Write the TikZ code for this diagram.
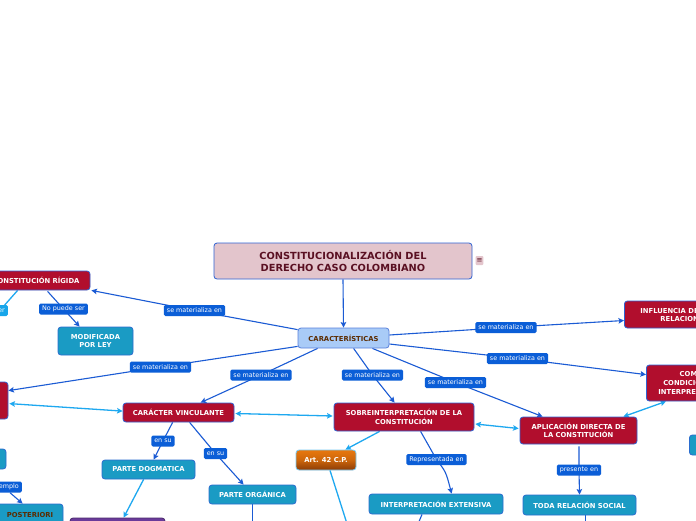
\documentclass[tikz,border=0pt]{standalone}
\usepackage{fontspec}
\setmainfont{DejaVu Sans}
\usetikzlibrary{arrows.meta,calc,backgrounds}
\definecolor{redn}{HTML}{B10E2D}
\definecolor{tealn}{HTML}{1A9BC4}
\definecolor{bordb}{HTML}{2F62D2}
\definecolor{lblb}{HTML}{0B5ED7}
\definecolor{lblc}{HTML}{17A6EA}
\definecolor{lined}{HTML}{1B5BD4}
\definecolor{linel}{HTML}{1EA8F0}
\definecolor{titlef}{HTML}{E3C5CC}
\definecolor{titlet}{HTML}{5A1022}
\definecolor{carf}{HTML}{A9CBF7}
\definecolor{brownt}{HTML}{5B2B00}
\definecolor{purpn}{HTML}{6A3A9A}
\definecolor{artt}{HTML}{E8780E}
\definecolor{artb}{HTML}{8C3C06}
\newcommand{\mynodefont}{\bfseries\fontsize{6.8}{8.6}\selectfont}
\newcommand{\mylblfont}{\fontsize{6.4}{7.4}\selectfont}
\begin{document}
\begin{tikzpicture}[x=1pt,y=-1pt,
  boxbase/.style={rounded corners=3pt, draw=bordb, line width=0.8pt, align=center, font=\mynodefont, inner sep=2pt},
  redbox/.style={boxbase, fill=redn, text=white},
  tealbox/.style={boxbase, fill=tealn, text=white, draw=bordb!80!tealn},
  purpbox/.style={boxbase, fill=purpn, draw=purpn!70!black},
  titlebox/.style={boxbase, fill=titlef, text=titlet, font=\bfseries\fontsize{9.8}{12}\selectfont},
  carbox/.style={boxbase, fill=carf, text=brownt, draw=bordb!80!white},
  artbox/.style={boxbase, top color=artt, bottom color=artb, middle color=artt!70!artb, draw=linel!60!white, text=white},
  notebox/.style={rounded corners=1pt, fill=titlef, text=titlet, font=\fontsize{7}{7}\selectfont, inner sep=1pt, minimum width=7pt, minimum height=9pt},
  lbl/.style={fill=lblb, text=white, font=\mylblfont, rounded corners=1.5pt, inner xsep=3pt, inner ysep=1pt, minimum height=11pt},
  lbll/.style={lbl, fill=lblc},
  dk/.style={draw=lined, line width=1.1pt},
  lt/.style={draw=linel, line width=1.3pt},
  tip/.style={-{Stealth[length=5.5pt,width=5.5pt,inset=1pt]}},
  dtip/.style={{Stealth[length=5.5pt,width=5.5pt,inset=1pt]}-{Stealth[length=5.5pt,width=5.5pt,inset=1pt]}}
]
\useasboundingbox (0,0) rectangle (696,520);
\clip (0,0) rectangle (696,520);

% nodes
\node[titlebox, minimum width=258pt, minimum height=36pt] (title) at (343,261) {CONSTITUCIONALIZACIÓN DEL\\DERECHO CASO COLOMBIANO};
\node[notebox] (note) at (479.5,260.5) {≡};
\node[carbox, minimum width=91pt, minimum height=20pt] (car) at (343.5,338) {CARACTERÍSTICAS};
\node[redbox, minimum width=108pt, minimum height=19pt] (rig) at (36,280.5) {CONSTITUCIÓN RÍGIDA};
\node[lbll, anchor=east] (rlab) at (8,310.5) {ser};
\node[lbl] (l0) at (63.5,309) {No puede ser};
\node[tealbox, minimum width=75pt, minimum height=28pt] (mod) at (95.5,341) {MODIFICADA\\POR LEY};
\node[redbox, minimum width=38pt, minimum height=37pt] (lred) at (-11,400.5) {};
\node[lbl] (l1) at (194.5,310.5) {se materializa en};
\node[lbl] (l2) at (160.5,367) {se materializa en};
\node[redbox, minimum width=111pt, minimum height=19pt] (cv) at (178.5,412.5) {CARÁCTER VINCULANTE};
\node[lbl] (l3) at (261,375) {se materializa en};
\node[redbox, minimum width=140pt, minimum height=28pt] (sob) at (404,417) {SOBREINTERPRETACIÓN DE LA\\CONSTITUCIÓN};
\node[lbl] (l4) at (372.5,375) {se materializa en};
\node[lbl] (l5) at (455.5,382.5) {se materializa en};
\node[redbox, minimum width=117pt, minimum height=27pt] (apl) at (578.5,430.5) {APLICACIÓN DIRECTA DE\\LA CONSTITUCIÓN};
\node[lbl] (l6) at (506,327.5) {se materializa en};
\node[redbox, minimum height=27pt, anchor=west, inner xsep=16pt] (inf) at (624,314.5) {INFLUENCIA DE LA CONSTITUCIÓN\\RELACIONES POLÍTICAS};
\node[lbl] (l7) at (517.5,358.5) {se materializa en};
\node[redbox, minimum height=36pt, anchor=west, inner xsep=12pt] (con) at (646,383) {COMO\\CONDICIÓN DE\\INTERPRETACIÓN};
\node[artbox, minimum width=60pt, minimum height=20pt] (art) at (326,460) {Art. 42 C.P.};
\node[lbl] (l8) at (436.5,459.5) {Representada en};
\node[tealbox, minimum width=134pt, minimum height=20pt] (ie) at (436,504) {INTERPRETACIÓN EXTENSIVA};
\node[lbl] (l9) at (579,470) {presente en};
\node[tealbox, minimum width=113pt, minimum height=20pt] (trs) at (579.5,505) {TODA RELACIÓN SOCIAL};
\node[tealbox, minimum width=60pt, minimum height=20pt, anchor=west] (rt) at (689,445) {};
\node[lbl] (l10) at (163,441) {en su};
\node[lbl] (l11) at (215.5,453.5) {en su};
\node[tealbox, minimum width=93pt, minimum height=19pt] (pd) at (148.5,469.5) {PARTE DOGMATICA};
\node[tealbox, minimum width=87pt, minimum height=19pt] (po) at (252.5,494.5) {PARTE ORGÁNICA};
\node[purpbox, minimum width=95pt, minimum height=22pt] (pu) at (117.5,529) {};
\node[tealbox, minimum width=30pt, minimum height=20pt] (lt) at (-9,459) {};
\node[lbl, anchor=east] (l12) at (22,487) {Por ejemplo};
\node[tealbox, text=brownt, minimum width=66pt, minimum height=22pt] (post) at (30,515) {POSTERIORI};

\coordinate (e1) at (349,530);

\begin{scope}[on background layer]
\fill[white] (0,0) rectangle (696,520);
\draw[dk,tip] (title.south) -- (car.north);
\draw[dk,tip] ($(car.north west)+(0,2)$) -- (l1.center) -- ($(rig.south east)+(1,0)$);
\draw[lt] ($(rig.south west)+(36,0)$) -- (rlab.center);
\draw[dk,tip] ($(rig.south west)+(66,1)$) -- (l0.center) -- ($(mod.north west)+(22,0)$);
\draw[dk,tip] ($(car.south west)+(0,-2)$) -- (l2.center) -- ($(lred.north east)+(0,9)$);
\draw[lt,dtip] ($(lred.north east)+(1,22)$) -- ($(cv.north west)+(0,8.5)$);
\draw[dk,tip] ($(car.south west)+(20,0)$) -- (l3.center) -- ($(cv.north west)+(78,0)$);
\draw[lt,dtip] ($(cv.east)+(1,1)$) -- ($(sob.west)+(-1,-1)$);
\draw[dk,tip] ($(car.south west)+(56,0)$) -- (l4.center) -- ($(sob.north west)+(61,0)$);
\draw[dk,tip] ($(car.south east)+(-17,0)$) -- (l5.center) -- ($(apl.north west)+(23,0)$);
\draw[dk,tip] ($(car.east)+(0,-3)$) -- (l6.center) -- ($(inf.west)+(0,6)$);
\draw[dk,tip] ($(car.east)+(0,6)$) -- (l7.center) -- ($(con.north west)+(0,10)$);
\draw[lt,dtip] ($(sob.east)+(1,7)$) -- ($(apl.west)+(-1,-2)$);
\draw[lt,dtip] ($(apl.north east)+(-14,0)$) -- ($(con.south west)+(20,0)$);
\draw[lt,tip] ($(sob.south west)+(46,0)$) -- ($(art.north east)+(-11,0)$);
\draw[lt] ($(art.south)+(4,0)$) -- (e1);
\draw[dk,tip] ($(sob.south west)+(87,0)$) -- (l8.center) .. controls (446,472) .. ($(ie.north west)+(83,0)$);
\draw[dk,tip] ($(apl.south)+(0.5,2)$) -- (l9.center) -- (trs.north);
\draw[dk] ($(ie.south)+(-14,0)$) -- ($(ie.south)+(-19,12)$);
\draw[dk] ($(trs.south)+(6,0)$) -- ++(0,12);
\draw[dk,tip] ($(cv.south west)+(50,0)$) -- (l10.center) -- ($(pd.north west)+(52,0)$);
\draw[dk,tip] ($(cv.south west)+(67,0)$) -- (l11.center) -- ($(po.north west)+(35,0)$);
\draw[lt,tip] ($(pd.south west)+(42,0)$) -- ($(pu.north west)+(54,0)$);
\draw[dk] (po.south) -- ++(0,20);
\draw[dk,tip] ($(l12.south east)+(-12,0)$) -- ($(post.north west)+(26,0)$);
\end{scope}
\end{tikzpicture}
\end{document}
